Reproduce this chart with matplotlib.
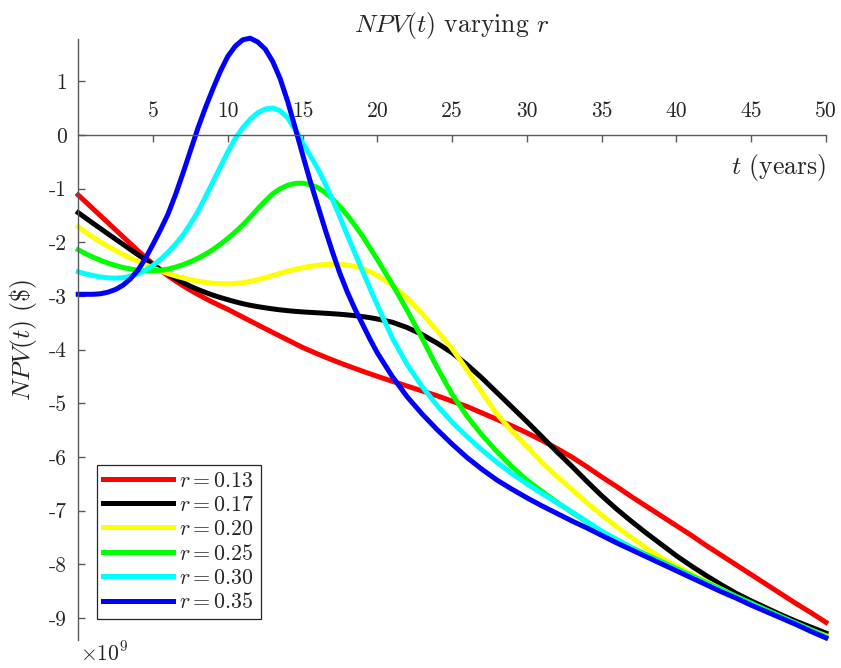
import matplotlib
matplotlib.use("Agg")
import matplotlib.pyplot as plt

# ---------- данные (NPV в единицах 1e9 $) ----------------------------------
# шаг 0.5 года до t = 20, далее шаг 1 год
t_years = [i / 2 for i in range(41)] + list(range(21, 51))

npv_r013 = [-1.12, -1.25, -1.38, -1.51, -1.64, -1.77, -1.90, -2.03, -2.16, -2.285, -2.405,
            -2.52, -2.625, -2.72, -2.81, -2.893, -2.972, -3.047, -3.118, -3.185, -3.25,
            -3.322, -3.394, -3.466, -3.538, -3.609, -3.68, -3.75, -3.82, -3.89, -3.96,
            -4.02, -4.08, -4.138, -4.194, -4.248, -4.30, -4.351, -4.401, -4.45, -4.498,
            -4.59, -4.68, -4.77, -4.86, -4.96, -5.06, -5.18, -5.30, -5.42, -5.55,
            -5.69, -5.84, -6.00, -6.18, -6.37, -6.55, -6.74, -6.92, -7.10, -7.28,
            -7.46, -7.65, -7.83, -8.01, -8.19, -8.37, -8.55, -8.73, -8.90, -9.08]
npv_r017 = [-1.45, -1.55, -1.65, -1.748, -1.846, -1.944, -2.04, -2.138, -2.234, -2.328, -2.42,
            -2.51, -2.595, -2.675, -2.75, -2.82, -2.88, -2.935, -2.985, -3.03, -3.07,
            -3.11, -3.145, -3.175, -3.20, -3.222, -3.242, -3.26, -3.275, -3.288, -3.298,
            -3.307, -3.315, -3.323, -3.332, -3.342, -3.354, -3.368, -3.385, -3.405, -3.43,
            -3.49, -3.59, -3.72, -3.88, -4.06, -4.28, -4.53, -4.80, -5.07, -5.34,
            -5.62, -5.90, -6.17, -6.45, -6.72, -6.97, -7.20, -7.42, -7.63, -7.84,
            -8.03, -8.21, -8.38, -8.54, -8.68, -8.81, -8.94, -9.06, -9.17, -9.28]
npv_r020 = [-1.71, -1.815, -1.91, -1.997, -2.08, -2.157, -2.23, -2.297, -2.36, -2.422, -2.48,
            -2.535, -2.585, -2.628, -2.665, -2.698, -2.725, -2.748, -2.765, -2.773, -2.775,
            -2.768, -2.755, -2.73, -2.70, -2.662, -2.62, -2.58, -2.54, -2.505, -2.475,
            -2.45, -2.43, -2.417, -2.41, -2.412, -2.425, -2.45, -2.49, -2.548, -2.62,
            -2.80, -3.04, -3.33, -3.65, -3.98, -4.38, -4.80, -5.20, -5.52, -5.80,
            -6.10, -6.36, -6.60, -6.85, -7.08, -7.30, -7.50, -7.70, -7.88, -8.03,
            -8.18, -8.32, -8.46, -8.60, -8.73, -8.85, -8.98, -9.10, -9.22, -9.33]
npv_r025 = [-2.14, -2.215, -2.28, -2.338, -2.39, -2.435, -2.47, -2.50, -2.52, -2.53, -2.53,
            -2.52, -2.50, -2.465, -2.42, -2.365, -2.30, -2.225, -2.14, -2.04, -1.93,
            -1.81, -1.68, -1.535, -1.38, -1.235, -1.10, -1.005, -0.94, -0.905, -0.90,
            -0.93, -0.98, -1.07, -1.19, -1.335, -1.50, -1.685, -1.88, -2.10, -2.32,
            -2.78, -3.27, -3.79, -4.33, -4.83, -5.24, -5.59, -5.90, -6.18, -6.43,
            -6.64, -6.84, -7.03, -7.21, -7.39, -7.54, -7.69, -7.82, -7.95, -8.08,
            -8.21, -8.34, -8.47, -8.60, -8.72, -8.85, -8.97, -9.10, -9.22, -9.35]
npv_r030 = [-2.55, -2.59, -2.62, -2.648, -2.665, -2.67, -2.66, -2.632, -2.59, -2.52, -2.43,
            -2.32, -2.19, -2.04, -1.87, -1.66, -1.43, -1.16, -0.88, -0.60, -0.32,
            -0.07, 0.13, 0.29, 0.41, 0.48, 0.50, 0.45, 0.32, 0.10, -0.14,
            -0.38, -0.62, -0.90, -1.20, -1.53, -1.87, -2.20, -2.53, -2.85, -3.17,
            -3.78, -4.28, -4.69, -5.04, -5.35, -5.62, -5.87, -6.10, -6.31, -6.50,
            -6.68, -6.85, -7.02, -7.20, -7.38, -7.54, -7.70, -7.84, -7.97, -8.10,
            -8.23, -8.36, -8.49, -8.62, -8.74, -8.87, -8.99, -9.11, -9.24, -9.36]
npv_r035 = [-2.97, -2.97, -2.97, -2.96, -2.93, -2.88, -2.80, -2.68, -2.52, -2.30, -2.04,
            -1.77, -1.48, -1.12, -0.72, -0.30, 0.12, 0.50, 0.85, 1.18, 1.46,
            1.65, 1.77, 1.80, 1.73, 1.60, 1.37, 1.05, 0.63, 0.14, -0.36,
            -0.85, -1.30, -1.75, -2.18, -2.58, -2.93, -3.24, -3.52, -3.80, -4.06,
            -4.50, -4.88, -5.20, -5.49, -5.76, -6.01, -6.23, -6.43, -6.60, -6.76,
            -6.91, -7.05, -7.19, -7.32, -7.46, -7.60, -7.73, -7.86, -7.99, -8.12,
            -8.25, -8.38, -8.51, -8.63, -8.76, -8.88, -9.00, -9.12, -9.25, -9.37]

r_labels = ["0.13", "0.17", "0.20", "0.25", "0.30", "0.35"]
series = [npv_r013, npv_r017, npv_r020, npv_r025, npv_r030, npv_r035]
colors = ["#ff0000", "#000000", "#ffff00", "#00ff00", "#00ffff", "#0000ff"]

x_ticks = [5, 10, 15, 20, 25, 30, 35, 40, 45, 50]
y_ticks = [-9, -8, -7, -6, -5, -4, -3, -2, -1, 0, 1]

# ---------- стиль (LaTeX-подобный) -----------------------------------------
plt.rcParams["font.family"] = ["cmr10", "DejaVu Serif"]
plt.rcParams["mathtext.fontset"] = "cm"
plt.rcParams["axes.unicode_minus"] = False
plt.rcParams["axes.formatter.use_mathtext"] = True

AX_COL = "0.35"
TXT_COL = "0.15"

fig = plt.figure(figsize=(8.41, 6.68), dpi=100)
ax = fig.add_axes([0.093, 0.0419, 0.889, 0.8993])

for vals, col, lab in zip(series, colors, r_labels):
    ax.plot(t_years, vals, color=col, lw=3.6, label=rf"$r = {lab}$",
            clip_on=False)

ax.set_xlim(0, 50)
ax.set_ylim(-9.41, 1.78)

# оси через начало координат
ax.spines["top"].set_position(("data", 0))
ax.spines["bottom"].set_visible(False)
ax.spines["right"].set_visible(False)
for s in ("top", "left"):
    ax.spines[s].set_color(AX_COL)
    ax.spines[s].set_linewidth(1.0)
ax.xaxis.tick_top()

ax.set_xticks(x_ticks)
ax.set_xticklabels([str(v) for v in x_ticks])
ax.set_yticks(y_ticks)
ax.set_yticklabels([str(v) for v in y_ticks])
ax.tick_params(axis="x", direction="in", length=5, width=1.0, pad=10,
               color=AX_COL, labelcolor=TXT_COL, labelsize=15.5)
ax.tick_params(axis="y", direction="in", length=5, width=1.0, pad=8,
               color=AX_COL, labelcolor=TXT_COL, labelsize=15.5)

ax.set_title(r"$NPV(t)$ varying $r$", fontsize=18.5, color=TXT_COL, pad=5)
ax.text(50, -0.615, r"$t$ (years)", ha="right", va="center",
        fontsize=18.5, color=TXT_COL)
ax.set_ylabel(r"$NPV(t)$ (\$)", fontsize=18.5, color=TXT_COL)
ax.yaxis.set_label_coords(-0.053, 0.5)

ax.text(0.003, -0.002, r"$\times10^{9}$", transform=ax.transAxes,
        ha="left", va="top", fontsize=15.5, color=TXT_COL)

leg = ax.legend(loc="lower left", bbox_to_anchor=(0.0247, 0.035),
                borderaxespad=0, fontsize=15.8, handlelength=3.2,
                handletextpad=0.25, labelspacing=0.21, borderpad=0.3,
                fancybox=False, framealpha=1)
leg.get_frame().set_edgecolor(TXT_COL)
leg.get_frame().set_linewidth(0.9)
for txt in leg.get_texts():
    txt.set_color(TXT_COL)

fig.savefig("out.png", dpi=100)
